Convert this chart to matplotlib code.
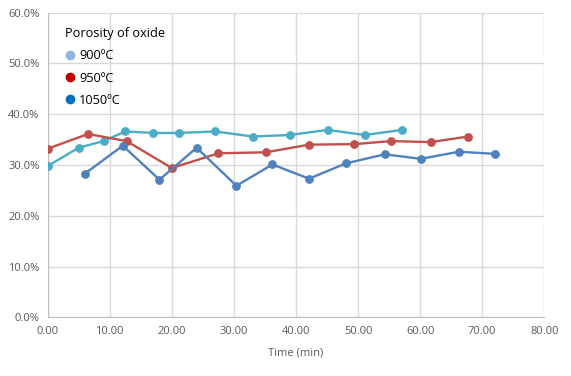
import matplotlib.pyplot as plt
from matplotlib.lines import Line2D
from matplotlib.ticker import FuncFormatter

plt.rcParams['font.family'] = ['Open Sans', 'DejaVu Sans']

# series (time in min, porosity in %)
t_teal = [0.0, 5.0, 9.0, 12.5, 17.0, 21.1, 27.0, 33.0, 39.0, 45.1, 51.1, 57.0]
p_teal = [29.8, 33.4, 34.7, 36.6, 36.3, 36.3, 36.6, 35.6, 35.9, 36.9, 35.9, 36.9]

t_red = [0.0, 6.5, 12.7, 20.0, 27.5, 35.2, 42.1, 49.4, 55.3, 61.7, 67.7]
p_red = [33.2, 36.1, 34.7, 29.4, 32.3, 32.5, 34.0, 34.1, 34.7, 34.5, 35.6]

t_blue = [6.0, 12.1, 18.0, 24.0, 30.4, 36.2, 42.1, 48.0, 54.3, 60.1, 66.2, 72.0]
p_blue = [28.3, 33.8, 27.1, 33.4, 25.9, 30.1, 27.3, 30.3, 32.1, 31.2, 32.6, 32.2]

legend_labels = ['900ºC', '950ºC', '1050ºC']
legend_colors = ['#8DB4E2', '#C00000', '#0070C0']

fig = plt.figure(figsize=(5.71, 3.76), dpi=100)
ax = fig.add_axes([0.0835, 0.156, 0.8698, 0.8105])

lw = 1.7
ms = 5.3
ax.plot(t_teal, p_teal, color='#4BACC6', lw=lw, marker='o', ms=ms, zorder=3)
ax.plot(t_red, p_red, color='#C0504D', lw=lw, marker='o', ms=ms, zorder=3)
ax.plot(t_blue, p_blue, color='#4F81BD', lw=lw, marker='o', ms=ms, zorder=3)

ax.set_xlim(0, 80)
ax.set_ylim(0, 60)
ax.set_xticks(range(0, 81, 10))
ax.set_yticks(range(0, 61, 10))
ax.xaxis.set_major_formatter(FuncFormatter(lambda v, p: f"{v:.2f}"))
ax.yaxis.set_major_formatter(FuncFormatter(lambda v, p: f"{v:.1f}%"))
ax.grid(True, color='#D9D9D9', lw=1)
ax.set_axisbelow(True)
for side in ['top', 'right']:
    ax.spines[side].set_visible(False)
for side in ['left', 'bottom']:
    ax.spines[side].set_color('#BFBFBF')
ax.tick_params(length=0, labelsize=8, colors='#595959', pad=6)
ax.set_xlabel('Time (min)', fontsize=8, color='#595959', labelpad=8)

handles = [Line2D([], [], ls='none', marker='o', ms=6, color=c) for c in legend_colors]
leg = ax.legend(handles, legend_labels, title='Porosity of oxide', loc='upper left',
                bbox_to_anchor=(0.012, 0.99), frameon=False, fontsize=9.2,
                title_fontsize=9.2, handlelength=0.8, handletextpad=0.3,
                labelspacing=0.72, alignment='left')
leg.get_title().set_color('#000000')

fig.savefig('out.png', dpi=100)
